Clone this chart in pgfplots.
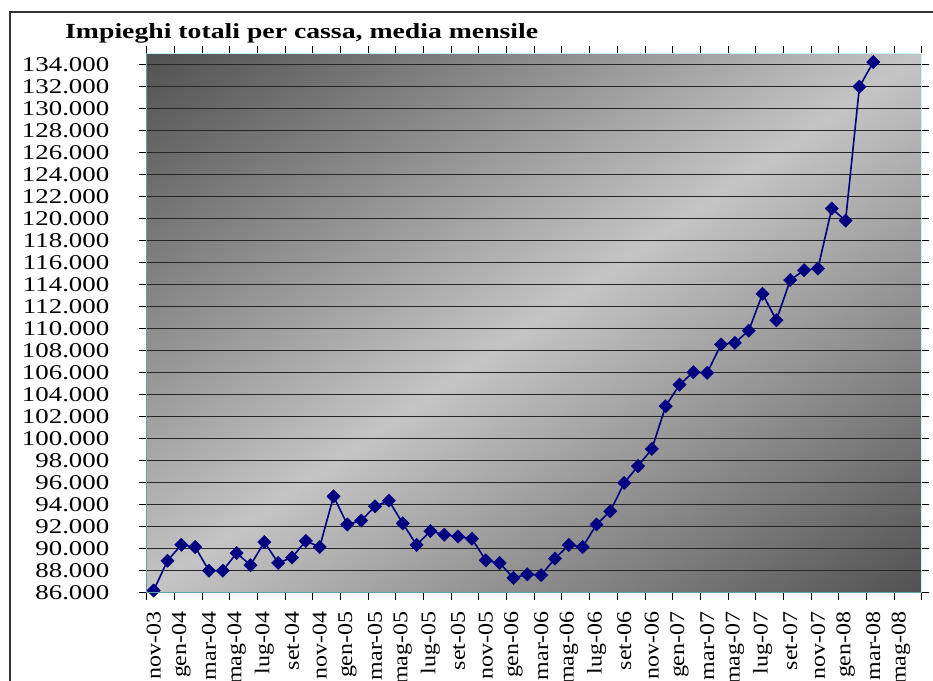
\documentclass[border=0pt]{standalone}
\usepackage{fontspec}
\setmainfont{Liberation Serif}
\newfontfamily\tfam{Liberation Serif}[FakeStretch=1.29]
\usepackage{graphicx}
\usepackage{pgfplots}
\pgfplotsset{compat=1.18}
\definecolor{navyline}{RGB}{0,0,128}
\definecolor{plotborder}{RGB}{200,245,245}
\definecolor{axteal}{RGB}{90,165,165}
\definecolor{bgdark}{RGB}{82,82,82}
\definecolor{bglight}{RGB}{196,196,196}
\pgfdeclarehorizontalshading{diagbg}{100bp}{color(0bp)=(bgdark); color(14.6bp)=(bgdark); color(50bp)=(bglight); color(85.4bp)=(bgdark); color(100bp)=(bgdark)}
\newcommand\ys[1]{\scalebox{1.28}[1]{#1}}
\newcommand\xs[1]{\scalebox{1.14}[1]{#1}}
\begin{document}
\begin{tikzpicture}
\useasboundingbox (0bp,0bp) rectangle (933bp,681bp);
\fill[white] (0bp,0bp) rectangle (933bp,681bp);
\draw[line width=1.5bp, black!80] (10bp,669bp) rectangle (980bp,-40bp);
\node[anchor=base west, inner sep=0pt, font=\tfam\fontsize{21.5bp}{24bp}\selectfont\bfseries] at (65bp,642bp) {Impieghi totali per cassa, media mensile};
\begin{scope}[transform canvas={shift={(146.7bp,88.3bp)}, xscale=7.75, yscale=5.394}]
\shade[shading=diagbg, shading angle=-45] (0bp,0bp) rectangle (100bp,100bp);
\end{scope}
\begin{axis}[
  at={(146.7bp,88.3bp)}, anchor=south west, scale only axis,
  width=775bp, height=539.4bp,
  xmin=-0.5, xmax=55.5, ymin=86000, ymax=135000,
  scaled y ticks=false,
  axis line style={draw=plotborder, line width=1.2bp},
  ymajorgrids, major grid style={black!85, line width=0.9bp},
  tick align=outside, major tick length=7.5bp,
  tick style={black, line width=0.8bp},
  ytick={86000,88000,...,134000},
  yticklabels={\ys{86.000},\ys{88.000},\ys{90.000},\ys{92.000},\ys{94.000},\ys{96.000},\ys{98.000},\ys{100.000},\ys{102.000},\ys{104.000},\ys{106.000},\ys{108.000},\ys{110.000},\ys{112.000},\ys{114.000},\ys{116.000},\ys{118.000},\ys{120.000},\ys{122.000},\ys{124.000},\ys{126.000},\ys{128.000},\ys{130.000},\ys{132.000},\ys{134.000}},
  yticklabel style={font=\fontsize{21bp}{22bp}\selectfont, anchor=east, inner sep=0pt, xshift=-29.7bp},
  xtick={-0.5,1.5,...,55.5}, xticklabels={},
  extra x ticks={0,2,...,54},
  extra x tick labels={\xs{nov-03},\xs{gen-04},\xs{mar-04},\xs{mag-04},\xs{lug-04},\xs{set-04},\xs{nov-04},\xs{gen-05},\xs{mar-05},\xs{mag-05},\xs{lug-05},\xs{set-05},\xs{nov-05},\xs{gen-06},\xs{mar-06},\xs{mag-06},\xs{lug-06},\xs{set-06},\xs{nov-06},\xs{gen-07},\xs{mar-07},\xs{mag-07},\xs{lug-07},\xs{set-07},\xs{nov-07},\xs{gen-08},\xs{mar-08},\xs{mag-08}},
  extra x tick style={major tick length=0pt},
  xticklabel style={font=\fontsize{21bp}{22bp}\selectfont, rotate=90, anchor=east, inner sep=0pt},
  xticklabel shift=18.6bp,
  clip=false,
  after end axis/.code={
    \draw[axteal, line width=1.2bp] (rel axis cs:0,1) -- (rel axis cs:0,0) -- (rel axis cs:1,0);
  },
]
\addplot[navyline, line width=1.6bp, mark=square*, mark size=4.7bp,
  mark options={rotate=45, fill=navyline, draw=navyline, line width=0.4bp, solid}]
  table[x=i, y=v] {
i v
0 86200
1 88900
2 90350
3 90150
4 88000
5 88000
6 89600
7 88500
8 90600
9 88700
10 89200
11 90700
12 90150
13 94750
14 92200
15 92550
16 93850
17 94360
18 92300
19 90340
20 91600
21 91270
22 91100
23 90900
24 88940
25 88700
26 87340
27 87670
28 87600
29 89100
30 90340
31 90150
32 92200
33 93400
34 95970
35 97500
36 99060
37 102940
38 104900
39 106030
40 105970
41 108550
42 108700
43 109800
44 113150
45 110750
46 114400
47 115300
48 115450
49 120900
50 119800
51 131970
52 134200
};
\end{axis}
\end{tikzpicture}
\end{document}
